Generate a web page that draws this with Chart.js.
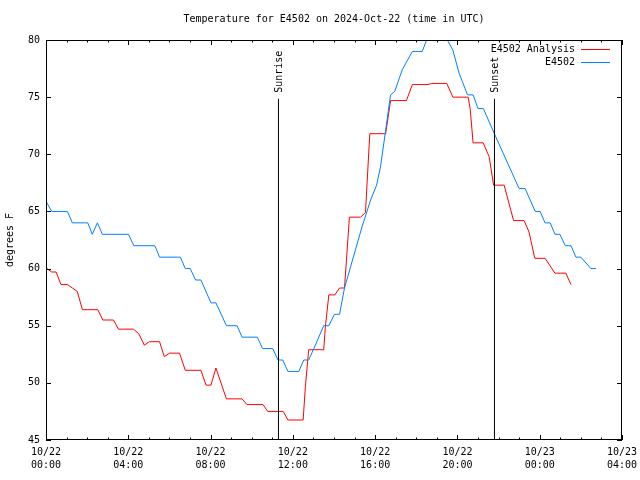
<!DOCTYPE html>
<html>
<head>
<meta charset="utf-8">
<script src="https://cdn.jsdelivr.net/npm/chart.js@4/dist/chart.umd.min.js"></script>
<style>html,body{margin:0;padding:0;background:#fff;}canvas{display:block;}</style>
</head>
<body>
<canvas id="c" width="640" height="480"></canvas>
<script>
// ---- data (x in hours since 2024-10-22 00:00 UTC) ----
const obsHours = [0.0,0.28,1.04,1.28,2.03,2.25,2.50,2.74,4.01,4.27,5.29,5.52,6.53,6.77,7.01,7.27,7.53,8.02,8.26,8.77,9.29,9.53,10.27,10.53,11.02,11.28,11.51,11.76,12.29,12.53,12.77,13.02,13.50,13.75,14.02,14.27,14.51,15.37,15.78,16.07,16.26,16.51,16.75,16.95,17.32,17.81,18.29,18.50,18.99,19.51,19.78,20.08,20.49,20.76,21.00,21.26,21.82,23.00,23.29,23.78,24.02,24.26,24.51,24.74,24.98,25.24,25.52,25.76,26.00,26.49,26.73];
const obsTemps = [65.9,65,65,64,64,63,64,63,63,62,62,61,61,60,60,59,59,57,57,55,55,54,54,53,53,52,52,51,51,52,52,53,55,55,56,56,58.3,63.7,66,67.3,68.9,72.1,75.2,75.5,77.4,79,79,80,81,80,79.1,77.1,75.2,75.2,74,74,71.7,67,67,65,65,64,64,63,63,62,62,61,61,60,60];

const anaHours = [0.0,0.11,0.28,0.49,0.73,1.04,1.28,1.52,1.77,2.52,2.76,3.28,3.52,4.25,4.51,4.78,5.03,5.52,5.75,6.01,6.49,6.77,7.53,7.78,8.02,8.26,8.77,9.53,9.77,10.55,10.78,11.53,11.76,12.50,12.61,12.77,13.50,13.58,13.75,14.04,14.27,14.51,14.75,15.29,15.53,15.74,16.51,16.75,17.52,17.81,18.57,18.74,19.48,19.78,20.52,20.62,20.76,21.25,21.54,21.76,22.27,22.73,23.24,23.48,23.76,24.26,24.74,25.27,25.52];
const anaTemps = [60.1,59.9,59.7,59.7,58.6,58.6,58.3,58.0,56.4,56.4,55.5,55.5,54.7,54.7,54.3,53.3,53.6,53.6,52.3,52.6,52.6,51.1,51.1,49.8,49.8,51.3,48.6,48.6,48.1,48.1,47.5,47.5,46.75,46.75,49.7,52.9,52.9,54.9,57.7,57.7,58.3,58.3,64.5,64.5,64.9,71.8,71.8,74.7,74.7,76.1,76.1,76.2,76.2,75.0,75.0,74.0,71.0,71.0,69.8,67.3,67.3,64.2,64.2,63.2,60.9,60.9,59.6,59.6,58.6];

const xTickDates = ['10/22','10/22','10/22','10/22','10/22','10/22','10/23','10/23'];
const xTickTimes = ['00:00','04:00','08:00','12:00','16:00','20:00','00:00','04:00'];
const yTickValues = [45,50,55,60,65,70,75,80];

const sunriseHour = 11.30;
const sunsetHour = 21.80;
const sunLineTop = 74.85;

const titleText = 'Temperature for E4502 on 2024-Oct-22 (time in UTC)';
const yAxisTitle = 'degrees F';
const seriesNames = ['E4502 Analysis', 'E4502'];
const seriesColors = ['#ff0000', '#0080ff'];

const FONT = '10px "DejaVu Sans Mono"';

function pts(xs, ys){ return xs.map((x,i)=>({x:x, y:ys[i]})); }

const decor = {
  id: 'decor',
  beforeDraw(chart){
    const ctx = chart.ctx;
    ctx.save();
    ctx.fillStyle = '#fff';
    ctx.fillRect(0,0,chart.width,chart.height);
    ctx.restore();
  },
  afterDraw(chart){
    const ctx = chart.ctx, a = chart.chartArea;
    const xs = chart.scales.x, ys = chart.scales.y;
    ctx.save();
    ctx.strokeStyle = '#000';
    ctx.lineWidth = 1;
    // frame
    ctx.strokeRect(Math.round(a.left)+0.5, Math.round(a.top)+0.5, Math.round(a.right-a.left)-1, Math.round(a.bottom-a.top)-1);
    // y ticks left & right
    ctx.beginPath();
    yTickValues.forEach(v=>{
      const y = Math.round(ys.getPixelForValue(v))+0.5;
      ctx.moveTo(a.left, y); ctx.lineTo(a.left+5, y);
      ctx.moveTo(a.right, y); ctx.lineTo(a.right-5, y);
    });
    // x ticks bottom & top (major every 4h, minor hourly)
    for(let h=0; h<=28; h++){
      const x = Math.round(xs.getPixelForValue(h))+0.5;
      const L = (h%4===0) ? 5 : 2.5;
      ctx.moveTo(x, a.bottom); ctx.lineTo(x, a.bottom-L);
      ctx.moveTo(x, a.top); ctx.lineTo(x, a.top+L);
    }
    ctx.stroke();

    ctx.fillStyle = '#000';
    ctx.font = FONT;
    // title
    ctx.textAlign = 'center'; ctx.textBaseline = 'middle';
    ctx.fillText(titleText, (a.left+a.right)/2, 19);
    // y title
    ctx.save();
    ctx.translate(10, 240);
    ctx.rotate(-Math.PI/2);
    ctx.fillText(yAxisTitle, 0, 0);
    ctx.restore();
    // sunrise / sunset labels
    [[sunriseHour,'Sunrise'],[sunsetHour,'Sunset']].forEach(([h,t])=>{
      ctx.save();
      ctx.translate(Math.round(xs.getPixelForValue(h))+1.5, ys.getPixelForValue(sunLineTop)-6);
      ctx.rotate(-Math.PI/2);
      ctx.textAlign = 'left'; ctx.textBaseline = 'middle';
      ctx.fillText(t, 0, 0);
      ctx.restore();
    });
    // legend
    ctx.textAlign = 'right'; ctx.textBaseline = 'middle';
    seriesNames.forEach((n,i)=>{
      const y = 49 + i*13;
      ctx.fillText(n, 575, y);
      ctx.beginPath();
      ctx.strokeStyle = seriesColors[i];
      ctx.moveTo(581, y+0.5); ctx.lineTo(610, y+0.5);
      ctx.stroke();
    });
    ctx.restore();
  }
};

new Chart(document.getElementById('c'), {
  type: 'line',
  data: {
    datasets: [
      { label: seriesNames[0], data: pts(anaHours, anaTemps), borderColor: seriesColors[0], borderWidth: 1, pointRadius: 0, tension: 0, order: 2 },
      { label: seriesNames[1], data: pts(obsHours, obsTemps), borderColor: seriesColors[1], borderWidth: 1, pointRadius: 0, tension: 0, order: 1 },
      { label: 'Sunrise', data: [{x:sunriseHour,y:45},{x:sunriseHour,y:sunLineTop}], borderColor: '#000', borderWidth: 1, pointRadius: 0, order: 0 },
      { label: 'Sunset', data: [{x:sunsetHour,y:45},{x:sunsetHour,y:sunLineTop}], borderColor: '#000', borderWidth: 1, pointRadius: 0, order: 0 }
    ]
  },
  options: {
    responsive: false,
    animation: false,
    devicePixelRatio: 1,
    layout: { padding: { top: 40, right: 18, left: 0, bottom: 0 } },
    plugins: { legend: { display: false }, tooltip: { enabled: false }, title: { display: false } },
    scales: {
      x: {
        type: 'linear', min: 0, max: 28,
        grid: { display: false, drawTicks: false },
        border: { display: false },
        ticks: {
          stepSize: 4, autoSkip: false, maxRotation: 0, padding: 6,
          color: '#000', font: { family: 'DejaVu Sans Mono', size: 10, lineHeight: 1.3 },
          callback: (v) => { const i = Math.round(v/4); return [xTickDates[i], xTickTimes[i]]; }
        },
        afterFit: (s) => { s.height = 40; s.paddingLeft = 0; s.paddingRight = 0; }
      },
      y: {
        min: 45, max: 80,
        grid: { display: false, drawTicks: false },
        border: { display: false },
        ticks: {
          stepSize: 5, padding: 6, color: '#000',
          font: { family: 'DejaVu Sans Mono', size: 10 }
        },
        afterFit: (s) => { s.width = 46; s.paddingTop = 0; s.paddingBottom = 0; }
      }
    }
  },
  plugins: [decor]
});
</script>
</body>
</html>
